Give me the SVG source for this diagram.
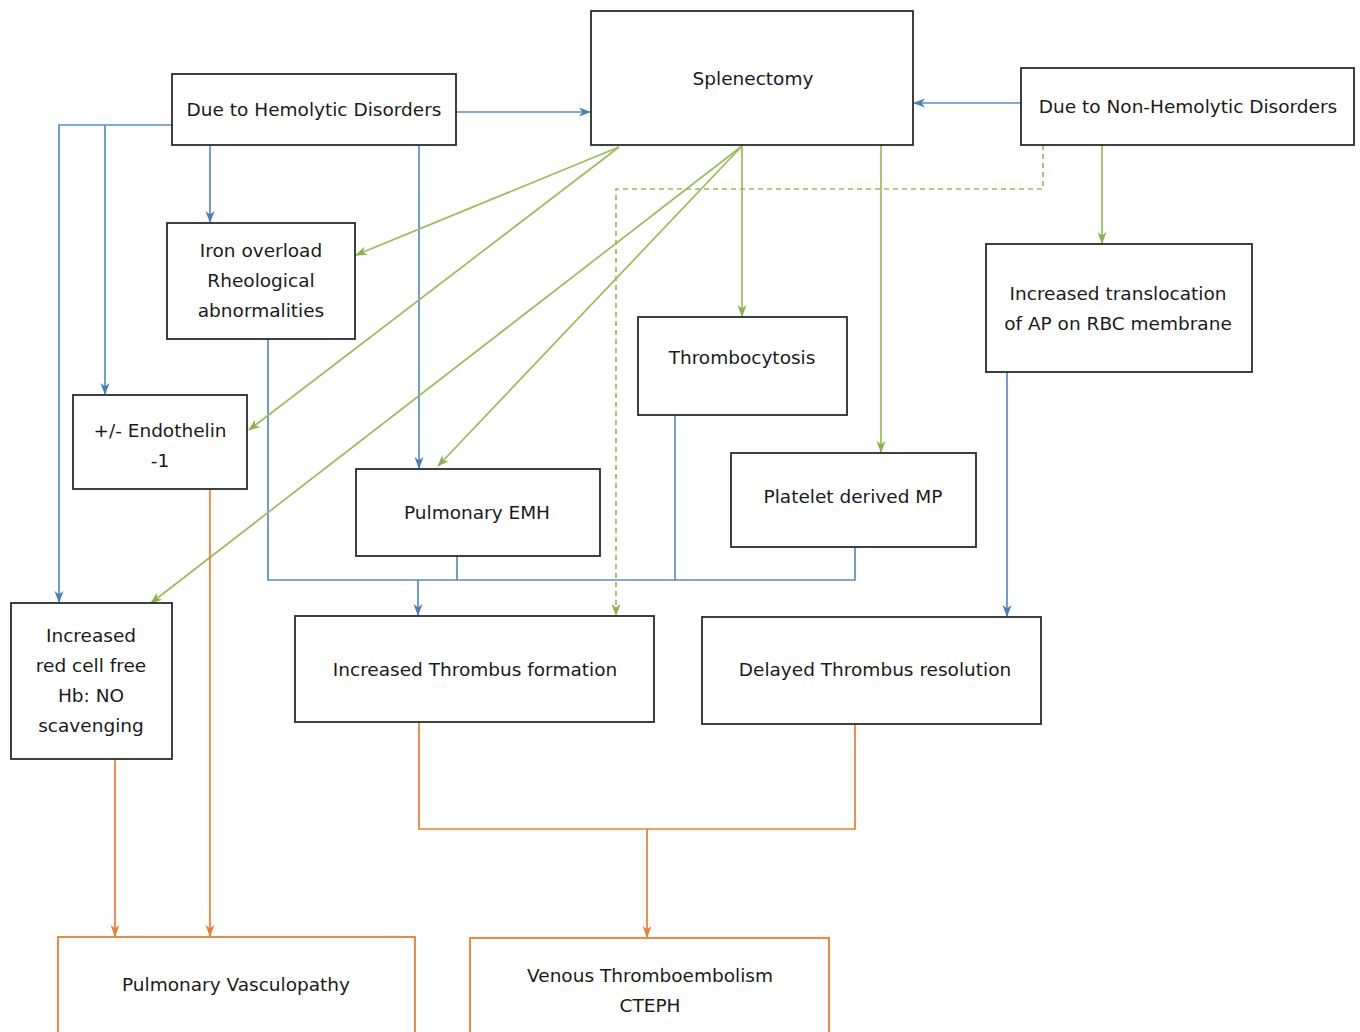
<svg xmlns="http://www.w3.org/2000/svg" width="1360" height="1032" viewBox="0 0 1360 1032">
<defs>
<style>
.box{fill:#fff;stroke:#2b2b2b;stroke-width:1.8}
.obox{fill:#fff;stroke:#ED7D31;stroke-width:1.8}
text{font-family:"DejaVu Sans",Verdana,sans-serif;font-size:18.5px;fill:#1a1a1a;text-anchor:middle}
.b{fill:none;stroke:#5B8BD0;stroke-width:1.7}
.g{fill:none;stroke:#9BBB59;stroke-width:1.7}
.gd{fill:none;stroke:#9BBB59;stroke-width:1.7;stroke-dasharray:5,4}
.o{fill:none;stroke:#ED7D31;stroke-width:1.7}
</style>
<marker id="ab" markerWidth="12" markerHeight="12" refX="11" refY="6" orient="auto" markerUnits="userSpaceOnUse"><path d="M0,1.5 L12,6 L0,10.5 L3.5,6 z" fill="#4A7EBB"/></marker>
<marker id="ag" markerWidth="12" markerHeight="12" refX="11" refY="6" orient="auto" markerUnits="userSpaceOnUse"><path d="M0,1.5 L12,6 L0,10.5 L3.5,6 z" fill="#8DB04A"/></marker>
<marker id="ao" markerWidth="12" markerHeight="12" refX="11" refY="6" orient="auto" markerUnits="userSpaceOnUse"><path d="M0,1.5 L12,6 L0,10.5 L3.5,6 z" fill="#ED7D31"/></marker>
</defs>
<rect width="1360" height="1032" fill="#fff"/>
<g id="connectors">
<path class="b" d="M456,112 H590" marker-end="url(#ab)"/>
<path class="b" d="M1021,103 H914" marker-end="url(#ab)"/>
<path class="b" d="M172,125 H59 V602" marker-end="url(#ab)"/>
<path class="b" d="M105,125 V394" marker-end="url(#ab)"/>
<path class="b" d="M210,145 V222" marker-end="url(#ab)"/>
<path class="b" d="M419,145 V468" marker-end="url(#ab)"/>
<path class="b" d="M268,339 V580 H855 V547"/>
<path class="b" d="M457,556 V580"/>
<path class="b" d="M675,415 V580"/>
<path class="b" d="M418,580 V615" marker-end="url(#ab)"/>
<path class="b" d="M1007,372 V616" marker-end="url(#ab)"/>
<path class="g" d="M619,147 L356,255" marker-end="url(#ag)"/>
<path class="g" d="M619,147 L249,430" marker-end="url(#ag)"/>
<path class="g" d="M742,146 L151,603" marker-end="url(#ag)"/>
<path class="g" d="M742,146 L438,466" marker-end="url(#ag)"/>
<path class="g" d="M742,146 V316" marker-end="url(#ag)"/>
<path class="g" d="M881,145 V452" marker-end="url(#ag)"/>
<path class="g" d="M1102,145 V243" marker-end="url(#ag)"/>
<path class="gd" d="M1043,145 V189 H616 V615" marker-end="url(#ag)"/>
<path class="o" d="M115,759 V936" marker-end="url(#ao)"/>
<path class="o" d="M210,489 V936" marker-end="url(#ao)"/>
<path class="o" d="M419,722 V829 H855 V724"/>
<path class="o" d="M647,829 V937" marker-end="url(#ao)"/>
</g>
<g id="splenectomy"><rect class="box" x="591" y="11" width="322" height="134"/><text x="753" y="85">Splenectomy</text></g>
<g id="hemolytic"><rect class="box" x="172" y="74" width="284" height="71"/><text x="314" y="116">Due to Hemolytic Disorders</text></g>
<g id="nonhemolytic"><rect class="box" x="1021" y="68" width="333" height="77"/><text x="1188" y="113">Due to Non-Hemolytic Disorders</text></g>
<g id="iron"><rect class="box" x="167" y="223" width="188" height="116"/><text x="261" y="257">Iron overload</text><text x="261" y="287">Rheological</text><text x="261" y="317">abnormalities</text></g>
<g id="endothelin"><rect class="box" x="73" y="395" width="174" height="94"/><text x="160" y="437">+/- Endothelin</text><text x="160" y="467">-1</text></g>
<g id="redcell"><rect class="box" x="11" y="603" width="161" height="156"/><text x="91" y="642">Increased</text><text x="91" y="672">red cell free</text><text x="91" y="702">Hb: NO</text><text x="91" y="732">scavenging</text></g>
<g id="emh"><rect class="box" x="356" y="469" width="244" height="87"/><text x="477" y="519">Pulmonary EMH</text></g>
<g id="thrombocytosis"><rect class="box" x="638" y="317" width="209" height="98"/><text x="742" y="364">Thrombocytosis</text></g>
<g id="plateletmp"><rect class="box" x="731" y="453" width="245" height="94"/><text x="853" y="503">Platelet derived MP</text></g>
<g id="translocation"><rect class="box" x="986" y="244" width="266" height="128"/><text x="1118" y="300">Increased translocation</text><text x="1118" y="330">of AP on RBC membrane</text></g>
<g id="thrombusformation"><rect class="box" x="295" y="616" width="359" height="106"/><text x="475" y="676">Increased Thrombus formation</text></g>
<g id="thrombusresolution"><rect class="box" x="702" y="617" width="339" height="107"/><text x="875" y="676">Delayed Thrombus resolution</text></g>
<g id="vasculopathy"><rect class="obox" x="58" y="937" width="357" height="110"/><text x="236" y="991">Pulmonary Vasculopathy</text></g>
<g id="vte"><rect class="obox" x="470" y="938" width="359" height="110"/><text x="650" y="982">Venous Thromboembolism</text><text x="650" y="1012">CTEPH</text></g>
</svg>
